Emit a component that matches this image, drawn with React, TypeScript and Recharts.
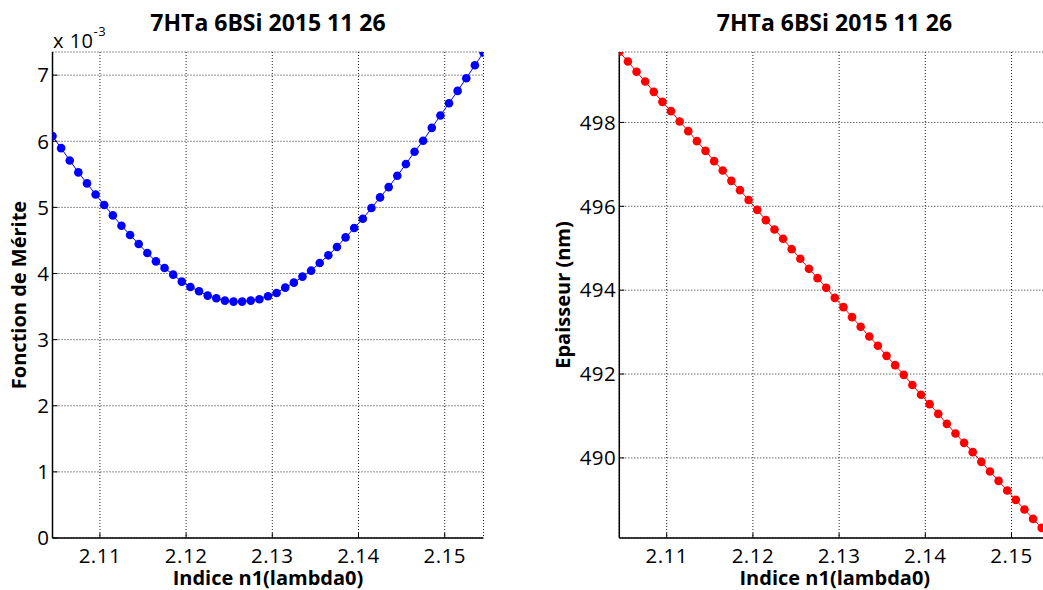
import { LineChart, Line, XAxis, YAxis, CartesianGrid } from 'recharts';

// refractive index n1(lambda0), shared by both panels
const indexN1 = [
  2.1045, 2.1055, 2.1065, 2.1075, 2.1085, 2.1095, 2.1105, 2.1115, 2.1125, 2.1135,
  2.1145, 2.1155, 2.1165, 2.1175, 2.1185, 2.1195, 2.1205, 2.1215, 2.1225, 2.1235,
  2.1245, 2.1255, 2.1265, 2.1275, 2.1285, 2.1295, 2.1305, 2.1315, 2.1325, 2.1335,
  2.1345, 2.1355, 2.1365, 2.1375, 2.1385, 2.1395, 2.1405, 2.1415, 2.1425, 2.1435,
  2.1445, 2.1455, 2.1465, 2.1475, 2.1485, 2.1495, 2.1505, 2.1515, 2.1525, 2.1535,
  2.1545,
];

// merit function, in units of 1e-3
const meriteE3 = [
  6.078, 5.896, 5.71, 5.529, 5.363, 5.196, 5.035, 4.879, 4.723, 4.582,
  4.446, 4.31, 4.184, 4.084, 3.983, 3.877, 3.797, 3.731, 3.666, 3.625,
  3.59, 3.575, 3.575, 3.59, 3.61, 3.656, 3.706, 3.787, 3.862, 3.953,
  4.043, 4.159, 4.275, 4.401, 4.547, 4.688, 4.829, 4.99, 5.151, 5.307,
  5.478, 5.655, 5.841, 6.007, 6.203, 6.39, 6.576, 6.762, 6.954, 7.15,
  7.341,
];

// thickness (nm)
const epaisseur = [
  499.684, 499.455, 499.207, 498.978, 498.73, 498.491, 498.27, 498.024, 497.793, 497.554,
  497.323, 497.077, 496.855, 496.607, 496.385, 496.15, 495.916, 495.67, 495.447, 495.225,
  494.978, 494.748, 494.509, 494.287, 494.056, 493.817, 493.595, 493.357, 493.126, 492.895,
  492.673, 492.434, 492.212, 491.981, 491.74, 491.505, 491.282, 491.05, 490.812, 490.583,
  490.359, 490.137, 489.906, 489.677, 489.452, 489.224, 488.999, 488.77, 488.546, 488.331,
  488.11,
];

const xTicks = [2.11, 2.12, 2.13, 2.14, 2.15];
const meriteTicks = [0, 1, 2, 3, 4, 5, 6, 7];
const epaisseurTicks = [490, 492, 494, 496, 498];

const title = '7HTa 6BSi 2015 11 26';
const xLabel = 'Indice n1(lambda0)';

const FONT = '"Open Sans", sans-serif';
const tickStyle = {
  fill: '#000',
  fontSize: 20.5,
  fontFamily: FONT,
  letterSpacing: 0.5,
  style: { fontSize: 20.5, fontFamily: FONT, letterSpacing: 0.5 },
};
const boldLabel = { fill: '#000', fontSize: 20, fontWeight: 700, fontFamily: FONT };
const axisLine = { stroke: '#000', strokeWidth: 1.5 };
const tickLine = { stroke: '#000', strokeWidth: 1 };

const leftData = indexN1.map((n, i) => ({ n, v: meriteE3[i] }));
const rightData = indexN1.map((n, i) => ({ n, v: epaisseur[i] }));

const yLabel = (text: string, dxFromLeft: number) => (props: any) => {
  const vb = props.viewBox || {};
  const x = (vb.x ?? 0) + dxFromLeft;
  const y = (vb.y ?? 0) + (vb.height ?? 0) / 2;
  return (
    <text
      x={x}
      y={y}
      transform={`rotate(-90 ${x} ${y})`}
      textAnchor="middle"
      dominantBaseline="central"
      style={boldLabel}
    >
      {text}
    </text>
  );
};

interface PanelProps {
  data: { n: number; v: number }[];
  yDomain: [number, number];
  yTicks: number[];
  color: string;
  yAxisWidth: number;
  marginRight: number;
  width: number;
  label: string;
  labelX: number;
}

function Panel({ data, yDomain, yTicks, color, yAxisWidth, marginRight, width, label, labelX }: PanelProps) {
  return (
    <LineChart
      width={width}
      height={590}
      data={data}
      margin={{ top: 52, right: marginRight, left: 0, bottom: 0 }}
    >
      <CartesianGrid stroke="#222" strokeDasharray="1 2" strokeWidth={1} />
      <XAxis
        dataKey="n"
        type="number"
        domain={[2.1045, 2.1545]}
        ticks={xTicks}
        allowDataOverflow
        height={52}
        tickSize={-5}
        tickMargin={15}
        tickLine={tickLine}
        fontSize={20.5}
        tick={tickStyle}
        axisLine={axisLine}
        label={{ value: xLabel, position: 'insideBottom', offset: 5, style: boldLabel }}
      />
      <XAxis
        xAxisId="top"
        dataKey="n"
        type="number"
        orientation="top"
        domain={[2.1045, 2.1545]}
        ticks={xTicks}
        height={0}
        tick={false}
        tickSize={-5}
        tickLine={tickLine}
        axisLine={{ stroke: '#222', strokeWidth: 2 }}
      />
      <YAxis
        type="number"
        domain={yDomain}
        ticks={yTicks}
        allowDataOverflow
        width={yAxisWidth}
        tickSize={-5}
        tickMargin={8}
        tickLine={tickLine}
        fontSize={20.5}
        tick={tickStyle}
        axisLine={axisLine}
        label={yLabel(label, labelX)}
      />
      <YAxis
        yAxisId="right"
        orientation="right"
        type="number"
        domain={yDomain}
        ticks={yTicks}
        width={0}
        tick={false}
        tickSize={-5}
        tickLine={tickLine}
        axisLine={axisLine}
      />
      <Line
        dataKey="v"
        type="linear"
        stroke={color}
        strokeWidth={1}
        dot={{ r: 4.3, fill: color, stroke: color, strokeWidth: 0 }}
        activeDot={false}
        isAnimationActive={false}
      />
    </LineChart>
  );
}

export default function App() {
  return (
    <div
      style={{
        position: 'absolute',
        left: 0,
        top: 0,
        width: 1043,
        height: 590,
        overflow: 'hidden',
        background: '#fff',
        fontFamily: FONT,
      }}
    >
      <div style={{ position: 'absolute', left: 0, top: 0 }}>
        <Panel
          data={leftData}
          yDomain={[0, 7.35]}
          yTicks={meriteTicks}
          color="#0000ff"
          yAxisWidth={52.5}
          marginRight={16.5}
          width={500}
          label="Fonction de Mérite"
          labelX={18}
        />
      </div>
      <div style={{ position: 'absolute', left: 523, top: 0 }}>
        <Panel
          data={rightData}
          yDomain={[488.09, 499.68]}
          yTicks={epaisseurTicks}
          color="#ff0000"
          yAxisWidth={96.3}
          marginRight={12.7}
          width={540}
          label="Epaisseur (nm)"
          labelX={39}
        />
      </div>
      <svg
        width={1043}
        height={590}
        style={{ position: 'absolute', left: 0, top: 0, pointerEvents: 'none' }}
      >
        <text x={268} y={31} textAnchor="middle" style={{ ...boldLabel, fontSize: 23 }}>
          {title}
        </text>
        <text x={834.5} y={31} textAnchor="middle" style={{ ...boldLabel, fontSize: 23 }}>
          {title}
        </text>
        <text x={53} y={48} fontSize={20} fill="#000" fontFamily={FONT} letterSpacing={0.5}>
          x 10
          <tspan dy={-12} fontSize={13}>-3</tspan>
        </text>
      </svg>
    </div>
  );
}
